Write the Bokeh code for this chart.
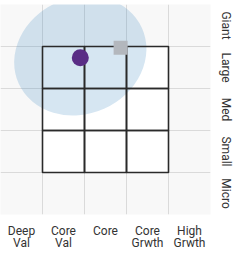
import math
from bokeh.plotting import figure
from bokeh.models import LinearAxis, FixedTicker, Range1d
from bokeh.embed import file_html
from bokeh.resources import INLINE

# ---- data ----
x_labels = ["Deep\nVal", "Core\nVal", "Core", "Core\nGrwth", "High\nGrwth"]
y_labels = ["Micro", "Small", "Med", "Large", "Giant"]
tick_pos = [0.5, 1.5, 2.5, 3.5, 4.5]
grid_pos = [1, 2, 3, 4]

box_x = [1.5, 2.5, 3.5] * 3
box_y = [1.5] * 3 + [2.5] * 3 + [3.5] * 3

fund_x = [1.9]
fund_y = [3.73]
bench_x = [2.86]
bench_y = [3.97]
zone_x = [1.9]
zone_y = [3.78]
zone_w = [3.22]
zone_h = [2.77]
zone_angle = [0.42]

p = figure(
    x_range=Range1d(0, 5), y_range=Range1d(0, 5),
    frame_width=210, frame_height=210,
    min_border_left=0, min_border_top=4, min_border_right=0, min_border_bottom=0,
    background_fill_color="#f8f8f8", border_fill_color="white",
    outline_line_color=None, y_axis_location=None,
    toolbar_location=None, output_backend="svg",
)

for g in (p.xgrid, p.ygrid):
    g.ticker = FixedTicker(ticks=grid_pos)
    g.grid_line_color = "#dadada"
    g.grid_line_width = 1

# white style box
p.rect(box_x, box_y, width=1, height=1, fill_color="white", line_color=None)
# ownership zone
p.ellipse(zone_x, zone_y, width=zone_w, height=zone_h, angle=zone_angle,
          fill_color="#3182bd", fill_alpha=0.2, line_color=None)
# box outlines
p.rect(box_x, box_y, width=1, height=1, fill_color=None,
       line_color="#2a2a2a", line_width=1.6)
# benchmark / fund
p.scatter(bench_x, bench_y, marker="square", size=14, fill_color="#b3b7bd", line_color=None)
p.scatter(fund_x, fund_y, marker="circle", size=17, fill_color="#5a2d86", line_color=None)

def style(ax):
    ax.axis_line_color = None
    ax.major_tick_line_color = None
    ax.minor_tick_line_color = None
    ax.major_label_text_font = "Roboto"
    ax.major_label_text_font_size = "12px"
    ax.major_label_text_color = "#333333"
    ax.major_label_text_line_height = 0.92

xa = p.xaxis[0]
xa.ticker = FixedTicker(ticks=tick_pos)
xa.major_label_overrides = {t: l for t, l in zip(tick_pos, x_labels)}
style(xa)
xa.major_label_standoff = 3

ya = LinearAxis(ticker=FixedTicker(ticks=tick_pos),
                major_label_overrides={t: l for t, l in zip(tick_pos, y_labels)})
style(ya)
ya.major_label_orientation = "parallel"
ya.major_label_standoff = 2
p.add_layout(ya, "right")

open("out.html", "w").write(file_html(p, INLINE))
